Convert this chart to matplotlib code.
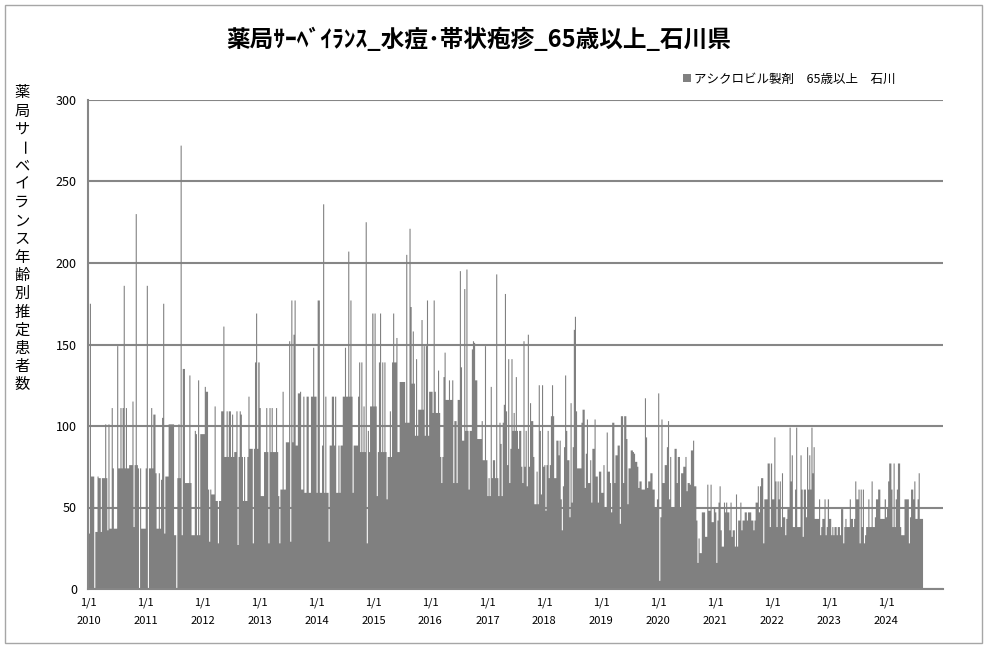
import matplotlib
matplotlib.use("Agg")
import matplotlib.dates as mdates
import matplotlib.pyplot as plt
import numpy as np
from matplotlib.patches import Rectangle

plt.rcParams["font.family"] = ["Noto Sans CJK JP", "DejaVu Sans"]

TITLE = "薬局ｻｰﾍﾞｲﾗﾝｽ_水痘･帯状疱疹_65歳以上_石川県"
SERIES_LABEL = "アシクロビル製剤\u300065歳以上\u3000石川"
Y_LABEL = "薬局サーベイランス年齢別推定患者数"

YEARS = list(range(2010, 2025))
Y_TICKS = [0, 50, 100, 150, 200, 250, 300]

# estimated patients, one value per week starting each Jan 1
w2010 = [34, 175, 69, 69, 69, 0, 35, 35, 69, 68, 68, 35, 68, 68, 68, 101, 68, 36, 101, 37, 37, 111, 74, 37, 37, 37,
         149, 74, 74, 111, 74, 111, 186, 74, 111, 74, 74, 76, 76, 76, 115, 38, 76, 230, 76, 74, 0, 74, 37, 37, 37, 37]
w2011 = [74, 186, 0, 74, 74, 111, 74, 107, 107, 71, 37, 37, 71, 37, 67, 105, 175, 34, 69, 69, 69, 101, 101, 101, 101, 101,
         33, 33, 0, 68, 101, 68, 272, 33, 135, 135, 65, 65, 65, 65, 131, 65, 33, 33, 33, 97, 95, 33, 128, 33, 95, 95]
w2012 = [95, 95, 124, 121, 121, 61, 29, 61, 58, 58, 58, 112, 54, 54, 28, 54, 54, 109, 109, 161, 81, 81, 109, 81, 109, 109,
         81, 107, 81, 84, 84, 109, 27, 81, 109, 107, 81, 54, 81, 54, 54, 81, 118, 86, 86, 86, 28, 86, 139, 169, 86, 139]
w2013 = [111, 57, 57, 57, 84, 84, 111, 84, 28, 111, 84, 111, 84, 84, 84, 111, 84, 57, 28, 61, 61, 121, 61, 61, 90, 90,
         90, 152, 29, 177, 90, 156, 177, 88, 88, 120, 120, 121, 61, 61, 118, 59, 59, 118, 118, 59, 59, 118, 118, 148, 118, 118]
w2014 = [59, 177, 177, 59, 59, 88, 236, 59, 118, 59, 59, 29, 88, 88, 118, 118, 88, 118, 59, 59, 88, 59, 88, 88, 118, 118,
         148, 118, 118, 207, 118, 177, 118, 59, 88, 88, 88, 88, 118, 139, 84, 139, 84, 112, 84, 225, 28, 97, 84, 112, 112, 169]
w2015 = [112, 169, 112, 57, 84, 139, 169, 84, 139, 84, 139, 84, 55, 81, 81, 109, 81, 139, 169, 139, 139, 154, 84, 84, 127, 127,
         127, 127, 127, 102, 205, 102, 102, 221, 173, 126, 158, 126, 94, 141, 94, 110, 110, 110, 165, 110, 149, 94, 149, 177, 94, 121]
w2016 = [121, 121, 108, 177, 121, 108, 108, 134, 108, 81, 65, 81, 130, 145, 116, 116, 116, 128, 116, 116, 128, 65, 103, 103, 65, 116,
         116, 195, 136, 91, 91, 184, 97, 196, 97, 61, 97, 97, 147, 152, 151, 128, 128, 92, 92, 92, 92, 103, 79, 79, 149, 79]
w2017 = [57, 68, 57, 124, 68, 79, 79, 68, 193, 68, 57, 102, 89, 57, 102, 113, 181, 109, 76, 141, 65, 86, 141, 97, 108, 97,
         130, 97, 86, 97, 97, 75, 65, 152, 75, 97, 63, 156, 75, 114, 103, 103, 81, 52, 52, 72, 52, 125, 97, 58, 125, 75]
w2018 = [76, 48, 76, 97, 68, 76, 106, 125, 106, 68, 68, 91, 91, 82, 91, 55, 36, 63, 87, 131, 97, 79, 79, 44, 114, 53,
         87, 159, 167, 109, 74, 74, 74, 74, 102, 110, 110, 62, 83, 104, 65, 65, 79, 53, 86, 86, 104, 69, 69, 53, 72, 72]
w2019 = [59, 59, 76, 50, 50, 96, 72, 72, 65, 47, 102, 102, 65, 82, 82, 88, 88, 40, 106, 106, 65, 106, 106, 92, 52, 74,
         74, 85, 85, 84, 83, 78, 78, 75, 62, 66, 66, 61, 61, 61, 117, 93, 62, 66, 66, 71, 71, 61, 61, 50, 50, 55]
w2020 = [120, 5, 44, 104, 65, 65, 76, 76, 87, 103, 55, 81, 50, 50, 50, 86, 86, 65, 81, 81, 50, 71, 71, 75, 75, 81,
         60, 65, 65, 64, 85, 85, 91, 63, 63, 42, 16, 31, 22, 22, 47, 47, 47, 32, 32, 64, 48, 48, 64, 41, 41, 50]
w2021 = [47, 16, 42, 53, 63, 36, 26, 26, 53, 47, 53, 47, 47, 36, 53, 32, 36, 36, 26, 58, 26, 42, 42, 53, 36, 42,
         42, 47, 47, 42, 47, 47, 47, 42, 42, 36, 42, 53, 53, 63, 47, 63, 68, 68, 28, 55, 55, 55, 77, 77, 38, 77]
w2022 = [55, 55, 93, 66, 38, 66, 55, 66, 38, 71, 44, 44, 33, 43, 49, 49, 99, 66, 82, 38, 38, 61, 99, 38, 38, 38,
         82, 61, 32, 61, 61, 44, 87, 61, 82, 61, 99, 71, 87, 43, 43, 43, 43, 55, 33, 38, 43, 43, 55, 33, 38, 55]
w2023 = [43, 43, 33, 38, 33, 38, 38, 33, 38, 38, 33, 49, 49, 28, 38, 43, 38, 38, 38, 55, 43, 43, 38, 43, 66, 55,
         55, 61, 28, 61, 38, 61, 28, 33, 38, 38, 55, 38, 38, 66, 38, 38, 44, 55, 55, 61, 61, 43, 43, 43, 43, 55]
w2024 = [44, 50, 66, 77, 77, 61, 38, 77, 38, 55, 61, 77, 77, 38, 33, 33, 33, 55, 55, 55, 55, 28, 44, 61, 61, 55,
         66, 43, 43, 55, 71, 43, 43, 43]

WEEKLY = [w2010, w2011, w2012, w2013, w2014, w2015, w2016, w2017,
          w2018, w2019, w2020, w2021, w2022, w2023, w2024]

GRAY = "#808080"
GRID = "#868686"


def build_steps():
    edges, values = [], []
    for year, vals in zip(YEARS, WEEKLY):
        start = np.datetime64(f"{year}-01-01")
        for i, v in enumerate(vals):
            edges.append(start + np.timedelta64(7 * i, "D"))
            values.append(v)
    edges.append(edges[-1] + np.timedelta64(7, "D"))
    return np.array(values, dtype=float), mdates.date2num(np.array(edges, dtype="datetime64[D]"))


def main():
    W, H = 987, 648
    fig = plt.figure(figsize=(W / 100, H / 100), dpi=100)
    ax = fig.add_axes([88 / W, 1 - 589 / H, (943 - 88) / W, (589 - 100) / H])

    values, edges = build_steps()
    ax.stairs(values, edges, fill=True, color=GRAY, linewidth=0, label=SERIES_LABEL, zorder=2)

    jan1 = mdates.date2num(np.array([f"{y}-01-01" for y in YEARS], dtype="datetime64[D]"))
    ax.set_xlim(jan1[0] - 5, mdates.date2num(np.datetime64("2025-01-01")))
    ax.set_ylim(0, 300)

    ax.set_yticks(Y_TICKS)
    ax.set_yticklabels([str(v) for v in Y_TICKS], fontsize=9)
    ax.tick_params(axis="y", length=0, pad=8)
    ax.set_xticks(jan1)
    ax.set_xticklabels([f"1/1\n{y}" for y in YEARS], fontsize=8)
    for t in ax.get_xticklabels():
        t.set_linespacing(2.0)
    ax.tick_params(axis="x", direction="in", length=3, width=1, color="#a6a6a6", pad=6)

    ax.grid(axis="y", color=GRID, linewidth=1.5, zorder=1)
    ax.set_axisbelow(True)
    for side in ("top", "right"):
        ax.spines[side].set_visible(False)
    for side in ("left", "bottom"):
        ax.spines[side].set_color(GRID)
        ax.spines[side].set_linewidth(1.5)

    fig.text(479 / W, 1 - 40 / H, TITLE, ha="center", va="center", fontsize=17, fontweight="bold")

    # vertical y-axis label, one character per line; the long vowel mark turns upright
    for i, ch in enumerate(Y_LABEL):
        fig.text(22 / W, 1 - (93 + i * 18.25) / H, ch, ha="center", va="center", fontsize=11,
                 rotation=-90 if ch == "ー" else 0)

    ax.legend(loc="center left", bbox_to_anchor=(683 / W, 1 - 79 / H), bbox_transform=fig.transFigure,
              frameon=False, fontsize=9, handlelength=0.6, handleheight=0.6, handletextpad=0.3,
              borderpad=0, borderaxespad=0)

    fig.add_artist(Rectangle((5 / W, 5 / H), 977 / W, 638 / H, transform=fig.transFigure,
                             fill=False, edgecolor="#a6a6a6", linewidth=1))

    fig.savefig("out.png", dpi=100)


if __name__ == "__main__":
    main()
